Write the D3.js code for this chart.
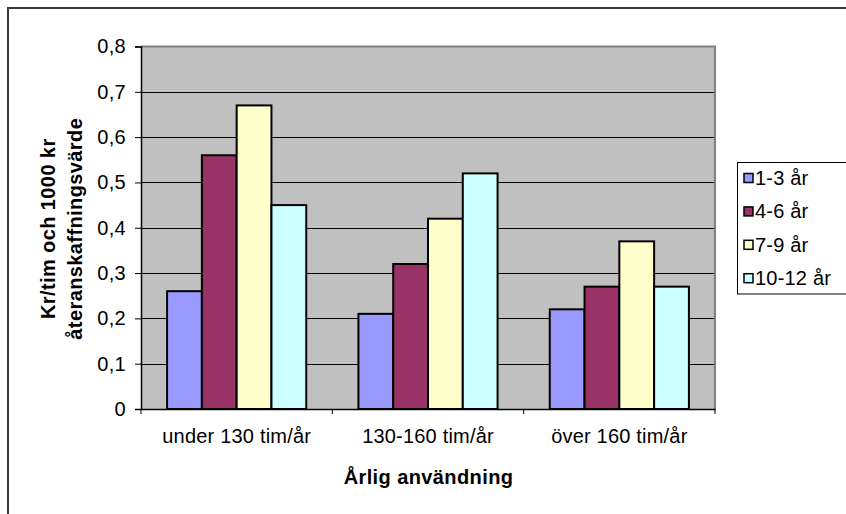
<!DOCTYPE html>
<html>
<head>
<meta charset="utf-8">
<script src="https://cdn.jsdelivr.net/npm/d3@7"></script>
<style>
  html, body { margin: 0; padding: 0; background: #fff; }
  svg { display: block; font-family: "Liberation Sans", Arial, sans-serif; }
</style>
</head>
<body>
<svg id="chart" width="846" height="514"></svg>
<script>
// Usage classes and age groups
const categories = ["under 130 tim/år", "130-160 tim/år", "över 160 tim/år"];
const seriesNames = ["1-3 år", "4-6 år", "7-9 år", "10-12 år"];
const seriesColors = ["#9999FF", "#993366", "#FFFFCC", "#CCFFFF"];
// Cost per hour and 1000 kr replacement value, one array per age group
const age1to3 = [0.26, 0.21, 0.22];
const age4to6 = [0.56, 0.32, 0.27];
const age7to9 = [0.67, 0.42, 0.37];
const age10to12 = [0.45, 0.52, 0.27];
const seriesValues = [age1to3, age4to6, age7to9, age10to12];
const yTicks = [0, 0.1, 0.2, 0.3, 0.4, 0.5, 0.6, 0.7, 0.8];
const yTitleLines = ["Kr/tim och 1000 kr", "återanskaffningsvärde"];
const xTitle = "Årlig användning";

const FONT = "'Liberation Sans', Arial, sans-serif";
const FS = 20;

const svg = d3.select("#chart");
const plot = { left: 141, top: 46.5, right: 715, bottom: 409 };

// Outer chart frame (left and top edges visible)
svg.append("rect")
  .attr("x", 8).attr("y", 8)
  .attr("width", 846).attr("height", 520)
  .attr("fill", "#fff")
  .attr("stroke", "#3a3a3a").attr("stroke-width", 2);

const x0 = d3.scaleBand().domain(categories).range([plot.left, plot.right]).paddingInner(0).paddingOuter(0);
const step = x0.bandwidth();
const barW = step / 5.5;
const x1 = d3.scaleBand().domain(seriesNames)
  .range([(step - 4 * barW) / 2, (step + 4 * barW) / 2]);
const y = d3.scaleLinear().domain([0, 0.8]).range([plot.bottom, plot.top]);

// Plot background
svg.append("rect")
  .attr("x", plot.left).attr("y", plot.top)
  .attr("width", plot.right - plot.left).attr("height", plot.bottom - plot.top)
  .attr("fill", "#C0C0C0");

// Horizontal gridlines
svg.append("g")
  .selectAll("line")
  .data(yTicks.filter(t => t > 0 && t < 0.8))
  .join("line")
  .attr("x1", plot.left).attr("x2", plot.right)
  .attr("y1", d => Math.round(y(d)) + 0.5).attr("y2", d => Math.round(y(d)) + 0.5)
  .attr("stroke", "#000").attr("stroke-width", 1);

// Top and right plot border
svg.append("path")
  .attr("d", `M${plot.left},${plot.top} H${plot.right} V${plot.bottom}`)
  .attr("fill", "none").attr("stroke", "#808080").attr("stroke-width", 2);

// Bars
const rows = [];
categories.forEach((c, ci) => {
  seriesNames.forEach((s, si) => rows.push({ c, s, si, v: seriesValues[si][ci] }));
});
svg.append("g")
  .selectAll("rect")
  .data(rows)
  .join("rect")
  .attr("x", d => x0(d.c) + x1(d.s))
  .attr("y", d => y(d.v))
  .attr("width", x1.bandwidth())
  .attr("height", d => y(0) - y(d.v))
  .attr("fill", d => seriesColors[d.si])
  .attr("stroke", "#000").attr("stroke-width", 2);

// Y axis
const yAxis = d3.axisLeft(y)
  .tickValues(yTicks)
  .tickSize(6)
  .tickPadding(9)
  .tickFormat(d => d3.format(".1f")(d).replace(".", ",").replace(/^0,0$/, "0"));
const gy = svg.append("g").attr("transform", `translate(${plot.left},0)`).call(yAxis);
gy.select(".domain").attr("stroke", "#000").attr("stroke-width", 1.5);
gy.selectAll(".tick line").attr("stroke", "#000");
gy.selectAll(".tick text")
  .attr("font-size", FS).attr("letter-spacing", 0.3)
  .attr("fill", "#000").attr("font-family", FONT);

// X axis with ticks at category boundaries
const xAxis = d3.axisBottom(x0).tickSize(0).tickPadding(20);
const gx = svg.append("g").attr("transform", `translate(0,${plot.bottom})`).call(xAxis);
gx.select(".domain").attr("stroke", "#000").attr("stroke-width", 1.5);
gx.selectAll(".tick text")
  .attr("font-size", FS).attr("letter-spacing", 0.2)
  .attr("fill", "#000").attr("font-family", FONT);
const bounds = categories.map(c => x0(c)).concat([plot.right]);
gx.selectAll(".bound")
  .data(bounds)
  .join("line")
  .attr("class", "bound")
  .attr("x1", d => d).attr("x2", d => d)
  .attr("y1", 0).attr("y2", 5)
  .attr("stroke", "#000").attr("stroke-width", 1);

// Axis titles
svg.append("text")
  .attr("x", (plot.left + plot.right) / 2 + 0.5).attr("y", 484)
  .attr("text-anchor", "middle")
  .attr("font-family", FONT)
  .attr("font-size", FS).attr("font-weight", "bold").attr("letter-spacing", 0.4)
  .text(xTitle);

const yMid = (plot.top + plot.bottom) / 2 + 1;
const yt = svg.append("g");
yTitleLines.forEach((line, i) => {
  yt.append("text")
    .attr("transform", `translate(${55 + i * 27},${yMid}) rotate(-90)`)
    .attr("text-anchor", "middle")
    .attr("font-family", FONT)
    .attr("font-size", FS).attr("font-weight", "bold").attr("letter-spacing", 0.4)
    .text(line);
});

// Legend
const legend = svg.append("g");
legend.append("rect")
  .attr("x", 737.5).attr("y", 162.5)
  .attr("width", 130).attr("height", 131.5)
  .attr("fill", "#fff").attr("stroke", "#000").attr("stroke-width", 1);
const items = legend.selectAll("g.item")
  .data(seriesNames)
  .join("g")
  .attr("class", "item")
  .attr("transform", (d, i) => `translate(744,${178 + i * 33.4})`);
items.append("rect")
  .attr("x", 0).attr("y", -4.5)
  .attr("width", 9).attr("height", 9)
  .attr("fill", (d, i) => seriesColors[i])
  .attr("stroke", "#000").attr("stroke-width", 1.5);
items.append("text")
  .attr("x", 11).attr("y", 7)
  .attr("font-family", FONT)
  .attr("font-size", FS).attr("letter-spacing", 0.2)
  .text(d => d);
</script>
</body>
</html>
